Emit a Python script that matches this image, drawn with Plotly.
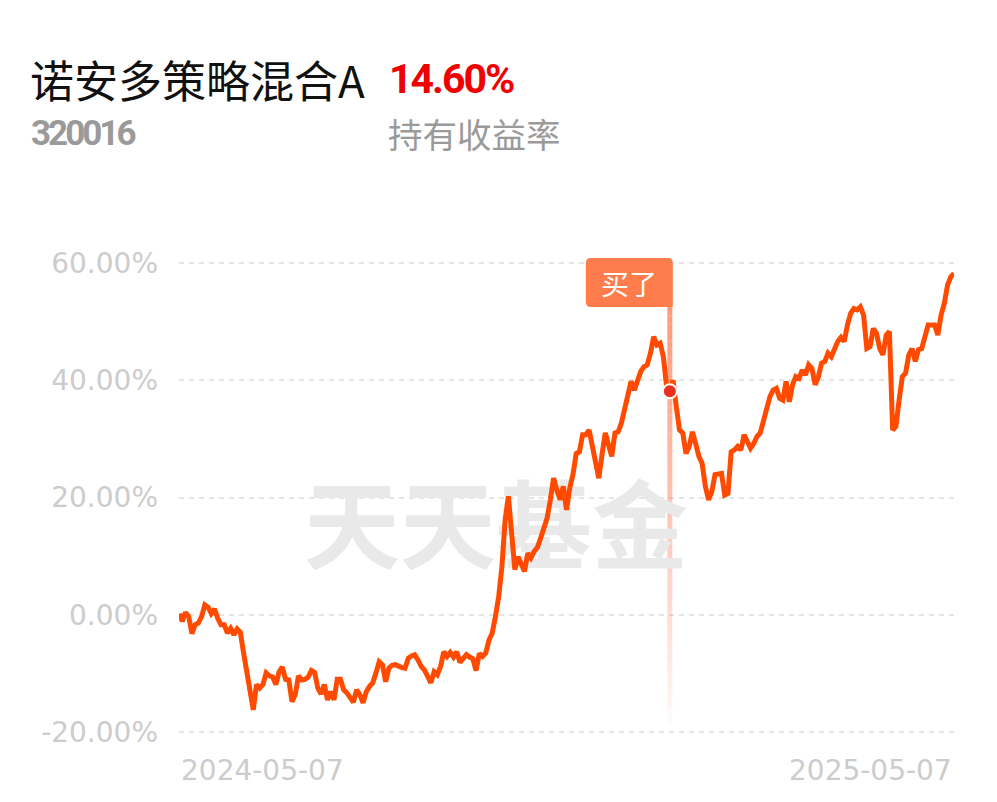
import plotly.graph_objects as go

# ---------------- data ----------------
fund_name = "诺安多策略混合A"
fund_code = "320016"
holding_return = "14.60%"
holding_label = "持有收益率"
watermark_text = "天天基金"
buy_label = "买了"

# cumulative return (%) per trading day
returns_part1 = [
    0.2, -1.1, 0.4, -0.3, -3.2, -1.7, -1.4, -0.3, 1.7, 1.3,
    0.2, 1.0, -0.6, -1.7, -1.7, -3.1, -2.3, -3.4, -2.4, -3.0,
    -6.5, -9.9, -12.2, -16.2, -11.9, -12.5, -11.9, -9.9, -10.4, -10.6,
    -11.9, -9.7, -8.9, -11.0, -11.1, -14.8, -13.6, -10.4, -11.1, -11.0,
    -10.6, -9.5, -9.8, -12.5, -13.5, -11.9, -14.5, -13.1, -14.5, -11.0,
    -11.0, -12.8, -13.3, -14.2, -14.9, -12.8, -13.6, -15.0, -13.1, -12.2,
    -11.6, -9.9,
]
returns_part2 = [
    -8.0, -8.5, -11.4, -9.1, -8.6, -8.5, -8.8, -9.0, -9.1, -7.4,
    -7.0, -6.8, -7.7, -8.8, -9.4, -10.5, -11.6, -9.7, -10.2, -8.8,
    -6.3, -7.1, -6.4, -7.2, -6.3, -8.1, -7.5, -6.8, -7.2, -7.5,
    -9.5, -6.6, -7.1, -6.5, -4.3, -3.1, -0.3, 3.1, 8.2, 16.2,
    20.2, 13.3, 7.7, 9.9, 8.8, 7.4, 10.5, 9.7, 10.8, 11.5,
    13.1, 15.0, 16.5, 19.6, 23.3, 21.3, 19.6, 21.9, 17.9,
]
returns_part3 = [
    21.6, 23.9, 27.5, 27.8, 30.7, 30.7, 31.5, 29.0, 26.4, 23.3,
    27.3, 31.0, 29.0, 27.0, 31.0, 31.2, 32.7, 35.2, 38.1, 39.8,
    38.3, 40.3, 41.5, 42.3, 42.6, 44.6, 47.4, 46.0, 46.3, 44.0,
    38.9, 38.1, 40.0, 35.5, 31.5, 31.0, 27.5, 28.7, 31.2, 29.2,
    27.0, 25.8, 21.9, 19.6, 21.0, 23.9, 23.9, 24.1, 20.4, 20.7,
    27.8, 28.1, 28.7, 28.1, 30.7, 29.6, 28.4, 29.2, 30.4, 31.0,
    33.2, 34.9, 37.2,
]
returns_part4 = [
    38.3, 38.6, 36.9, 36.6, 39.8, 36.3, 39.2, 40.6, 40.3, 41.7,
    40.9, 42.6, 42.0, 39.2, 40.6, 42.9, 43.2, 44.6, 44.0, 45.4,
    46.6, 47.3, 46.6, 49.4, 51.4, 52.2, 52.0, 52.5, 51.1, 45.4,
    45.7, 48.8, 48.0, 45.4, 44.3, 47.7, 48.3, 31.5, 32.1, 36.6,
    40.6, 41.2, 44.3, 45.4, 43.2, 45.2, 45.4, 47.4, 49.4, 49.4,
    49.4, 47.7, 51.1, 53.1, 56.2, 57.6, 58.2,
]
returns = returns_part1 + returns_part2 + returns_part3 + returns_part4
day_index = list(range(len(returns)))
buy_day = 152

x_tick_labels = ["2024-05-07", "2025-05-07"]
y_tick_vals = [-20, 0, 20, 40, 60]
y_tick_text = ["-20.00%", "0.00%", "20.00%", "40.00%", "60.00%"]

# ---------------- layout geometry ----------------
W, H = 997, 802
L, R, T, B = 179, 43, 257, 64
Y_RANGE = [-21, 61]
PW, PH = W - L - R, H - T - B
n = len(returns)


def px_of_day(i):
    return L + i * PW / (n - 1)


def day_of_px(px):
    return (px - L) * (n - 1) / PW


def val_of_py(py):
    return Y_RANGE[0] + (H - B - py) / PH * (Y_RANGE[1] - Y_RANGE[0])


def paper_x(px):
    return (px - L) / PW


def paper_y(py):
    return (H - B - py) / PH


LINE_COLOR = "#ff4a00"
GRID_COLOR = "#e4e4e4"
AXIS_TEXT = "#cccccc"
CJK = "Noto Sans CJK SC, sans-serif"
NUM = "Roboto, sans-serif"

fig = go.Figure()

# watermark (drawn first so the line goes over it)
fig.add_trace(go.Scatter(
    x=[day_of_px(496)], y=[val_of_py(537)], mode="text",
    text=[watermark_text],
    textfont=dict(family=CJK, size=96, color="#e9e9e9", weight="bold"),
    hoverinfo="skip", showlegend=False,
))

fig.add_trace(go.Scatter(
    x=day_index, y=returns, mode="lines",
    line=dict(color=LINE_COLOR, width=5),
    hoverinfo="skip", showlegend=False,
))

fig.add_trace(go.Scatter(
    x=[buy_day], y=[returns[buy_day]], mode="markers",
    marker=dict(size=14, color="#e8301c", line=dict(color="white", width=2)),
    hoverinfo="skip", showlegend=False,
))

shapes = []
# fading vertical buy line
bx = buy_day
top_py, bot_py = 307, 725
nseg = 50
for k in range(nseg):
    t0, t1 = k / nseg, (k + 1) / nseg
    a = 0.75 * (1 - t0) ** 0.85
    shapes.append(dict(
        type="line", xref="x", yref="y", layer="between",
        x0=bx, x1=bx,
        y0=val_of_py(top_py + t0 * (bot_py - top_py)),
        y1=val_of_py(top_py + t1 * (bot_py - top_py)),
        line=dict(color=f"rgba(255,120,80,{a:.3f})", width=5),
    ))

# rounded label box for the buy marker
lx = px_of_day(buy_day)
x0p, x1p, y0p, y1p, r = lx - 84, lx + 3, 258, 307, 5


def P(px, py):
    return f"{paper_x(px):.5f},{paper_y(py):.5f}"


path = (
    f"M {P(x0p + r, y0p)} L {P(x1p - r, y0p)} Q {P(x1p, y0p)} {P(x1p, y0p + r)} "
    f"L {P(x1p, y1p)} L {P(x0p + r, y1p)} Q {P(x0p, y1p)} {P(x0p, y1p - r)} "
    f"L {P(x0p, y0p + r)} Q {P(x0p, y0p)} {P(x0p + r, y0p)} Z"
)
shapes.append(dict(type="path", xref="paper", yref="paper", path=path,
                   fillcolor="#ff7c4c", line=dict(width=0), layer="above"))

annotations = [
    dict(text=fund_name, x=paper_x(28), y=paper_y(79), xref="paper", yref="paper",
         xanchor="left", yanchor="middle", showarrow=False,
         font=dict(family=CJK, size=44, color="#111111")),
    dict(text=f"<span style='letter-spacing:-2px'>{holding_return}</span>",
         x=paper_x(387), y=paper_y(79), xref="paper", yref="paper",
         xanchor="left", yanchor="middle", showarrow=False,
         font=dict(family=NUM, size=41, color="#f00000", weight="bold")),
    dict(text=f"<span style='letter-spacing:-3px'>{fund_code}</span>",
         x=paper_x(29), y=paper_y(133), xref="paper", yref="paper",
         xanchor="left", yanchor="middle", showarrow=False,
         font=dict(family=NUM, size=35, color="#9a9a9a", weight="bold")),
    dict(text=holding_label, x=paper_x(386), y=paper_y(133), xref="paper", yref="paper",
         xanchor="left", yanchor="middle", showarrow=False,
         font=dict(family=CJK, size=34.5, color="#9a9a9a")),
    dict(text=x_tick_labels[0], x=0, y=paper_y(770), xref="x", yref="paper",
         xanchor="left", yanchor="middle", showarrow=False,
         font=dict(family="DejaVu Sans", size=28, color=AXIS_TEXT)),
    dict(text=x_tick_labels[-1], x=n - 1, y=paper_y(770), xref="x", yref="paper",
         xanchor="right", yanchor="middle", showarrow=False,
         font=dict(family="DejaVu Sans", size=28, color=AXIS_TEXT)),
    dict(text=buy_label, x=paper_x((x0p + x1p) / 2), y=paper_y(283), xref="paper", yref="paper",
         xanchor="center", yanchor="middle", showarrow=False,
         font=dict(family=CJK, size=28, color="white")),
]

fig.update_layout(
    width=W, height=H,
    margin=dict(l=L, r=R, t=T, b=B, pad=0),
    paper_bgcolor="white", plot_bgcolor="white",
    showlegend=False,
    shapes=shapes,
    annotations=annotations,
    xaxis=dict(range=[0, n - 1], showgrid=False, zeroline=False, showticklabels=False,
               showline=False, ticks="", fixedrange=True),
    yaxis=dict(range=Y_RANGE, tickvals=y_tick_vals, ticktext=y_tick_text,
               showgrid=True, gridcolor=GRID_COLOR, griddash="5px,5px", gridwidth=1.6,
               zeroline=False, showline=False, ticks="", ticklabelstandoff=20,
               tickfont=dict(family="DejaVu Sans", size=28, color=AXIS_TEXT),
               automargin=False, fixedrange=True),
)

fig.write_html("out.html", config={"displayModeBar": False},
               post_script="document.body.style.margin='0';")
